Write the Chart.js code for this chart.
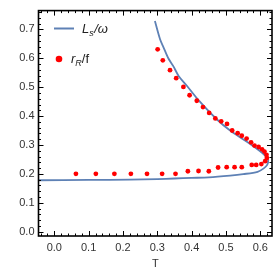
<!DOCTYPE html>
<html>
<head>
<meta charset="utf-8">
<script src="https://cdn.jsdelivr.net/npm/chart.js@4/dist/chart.umd.min.js"></script>
<style>
  html,body{margin:0;padding:0;background:#fff;}
  #wrap{position:relative;width:277px;height:274px;}
</style>
</head>
<body>
<div id="wrap"><canvas id="c" width="277" height="274"></canvas></div>
<script>
// ---- data ----
const lineT = [0.293,0.308,0.318,0.332,0.347,0.362,0.386,0.420,0.473,0.512,0.561,0.605,0.619,0.623,0.620,0.610,0.592,0.550,0.512,0.450,0.400,0.350,0.300,0.220,0.100,-0.046];
const lineY = [0.729,0.666,0.638,0.600,0.572,0.539,0.505,0.455,0.389,0.350,0.311,0.273,0.256,0.247,0.231,0.219,0.207,0.199,0.194,0.188,0.186,0.184,0.182,0.180,0.179,0.178];

const dotT = [0.301,0.316,0.337,0.355,0.376,0.394,0.415,0.433,0.451,0.469,0.486,0.503,0.518,0.534,0.546,0.560,0.573,0.583,0.595,0.605,0.612,0.618,0.619,0.614,0.603,0.588,0.575,0.546,0.525,0.502,0.477,0.450,0.420,0.389,0.353,0.314,0.270,0.223,0.175,0.121,0.063];
const dotY = [0.631,0.593,0.559,0.531,0.501,0.472,0.453,0.431,0.411,0.392,0.382,0.373,0.350,0.341,0.332,0.322,0.309,0.298,0.293,0.285,0.277,0.266,0.255,0.244,0.234,0.231,0.231,0.223,0.223,0.223,0.222,0.209,0.210,0.209,0.200,0.200,0.200,0.200,0.200,0.200,0.200];

const xTicks = [0.0,0.1,0.2,0.3,0.4,0.5,0.6];
const yTicks = [0.0,0.1,0.2,0.3,0.4,0.5,0.6,0.7];
const xLabels = ['0.0','0.1','0.2','0.3','0.4','0.5','0.6'];
const yLabels = ['0.0','0.1','0.2','0.3','0.4','0.5','0.6','0.7'];
const xRange = [-0.046, 0.634];
const yRange = [-0.015, 0.765];
const minorStep = 0.02;
const seriesNames = ['Ls/ω','rR/f'];

const BLUE = 'rgb(94,129,181)';
const RED = '#ff0000';
const FONT = '"Liberation Sans", Arial, sans-serif';

const framePlugin = {
  id: 'frame',
  afterDatasetsDraw(chart) {
    const {ctx, chartArea: a, scales: {x, y}} = chart;
    ctx.save();
    ctx.strokeStyle = '#000';
    // ticks
    ctx.lineWidth = 1;
    const drawX = (v, len) => {
      const px = Math.round(x.getPixelForValue(v)) + 0.5;
      ctx.beginPath();
      ctx.moveTo(px, a.bottom); ctx.lineTo(px, a.bottom - len);
      ctx.moveTo(px, a.top); ctx.lineTo(px, a.top + len);
      ctx.stroke();
    };
    const drawY = (v, len) => {
      const py = Math.round(y.getPixelForValue(v)) + 0.5;
      ctx.beginPath();
      ctx.moveTo(a.left, py); ctx.lineTo(a.left + len, py);
      ctx.moveTo(a.right, py); ctx.lineTo(a.right - len, py);
      ctx.stroke();
    };
    for (let k = Math.ceil(xRange[0] / minorStep); k * minorStep <= xRange[1]; k++) {
      const v = k * minorStep;
      const major = xTicks.some(t => Math.abs(t - v) < 1e-6);
      drawX(v, major ? 5 : 2.5);
    }
    for (let k = Math.ceil(yRange[0] / minorStep); k * minorStep <= yRange[1]; k++) {
      const v = k * minorStep;
      const major = yTicks.some(t => Math.abs(t - v) < 1e-6);
      drawY(v, major ? 5 : 2.5);
    }
    ctx.lineWidth = 1.6;
    ctx.strokeRect(a.left, a.top, a.right - a.left, a.bottom - a.top);
    ctx.restore();
  },
  afterDraw(chart) {
    const ctx = chart.ctx;
    ctx.save();
    // entry 1: line
    ctx.strokeStyle = BLUE;
    ctx.lineWidth = 2;
    ctx.beginPath(); ctx.moveTo(54, 28.5); ctx.lineTo(74, 28.5); ctx.stroke();
    ctx.fillStyle = '#222';
    ctx.textBaseline = 'alphabetic';
    let xp = 82;
    ctx.font = 'italic 13px ' + FONT;
    ctx.fillText('L', xp, 33); xp += ctx.measureText('L').width;
    ctx.font = 'italic 9px ' + FONT;
    ctx.fillText('s', xp, 36); xp += ctx.measureText('s').width + 0.5;
    ctx.font = 'italic 13px ' + FONT;
    ctx.fillText('/ω', xp, 33);
    // entry 2: dot
    ctx.fillStyle = RED;
    ctx.beginPath(); ctx.arc(59, 59, 3.3, 0, Math.PI * 2); ctx.fill();
    ctx.fillStyle = '#222';
    xp = 71;
    ctx.font = 'italic 13px ' + FONT;
    ctx.fillText('r', xp, 63); xp += ctx.measureText('r').width;
    ctx.font = 'italic 9px ' + FONT;
    ctx.fillText('R', xp, 66); xp += ctx.measureText('R').width;
    ctx.font = '13px ' + FONT;
    ctx.fillText('/f', xp, 63);
    ctx.restore();
  }
};

new Chart(document.getElementById('c'), {
  type: 'scatter',
  data: {
    datasets: [
      {
        label: seriesNames[0],
        data: lineT.map((t, i) => ({x: t, y: lineY[i]})),
        showLine: true,
        borderColor: BLUE,
        borderWidth: 1.8,
        pointRadius: 0,
        tension: 0.3,
        order: 2
      },
      {
        label: seriesNames[1],
        data: dotT.map((t, i) => ({x: t, y: dotY[i]})),
        showLine: false,
        backgroundColor: RED,
        borderWidth: 0,
        pointRadius: 2.4,
        order: 1
      }
    ]
  },
  options: {
    responsive: false,
    animation: false,
    devicePixelRatio: 1,
    layout: {padding: {top: 2, right: 5, left: 0, bottom: 0}},
    plugins: {legend: {display: false}, tooltip: {enabled: false}},
    scales: {
      x: {
        type: 'linear',
        min: xRange[0], max: xRange[1],
        grid: {display: false, drawTicks: false},
        border: {display: false},
        afterBuildTicks: s => { s.ticks = xTicks.map(v => ({value: v})); },
        afterFit: s => { s.height = 38; },
        ticks: {
          autoSkip: false, maxRotation: 0, padding: 5,
          color: '#333', font: {family: FONT, size: 11},
          callback: (v) => { const i = xTicks.findIndex(t => Math.abs(t - v) < 1e-6); return i >= 0 ? xLabels[i] : ''; }
        },
        title: {display: true, text: 'T', color: '#333', font: {family: FONT, size: 11}, padding: {top: 0, bottom: 3.5}}
      },
      y: {
        type: 'linear',
        min: yRange[0], max: yRange[1],
        grid: {display: false, drawTicks: false},
        border: {display: false},
        afterBuildTicks: s => { s.ticks = yTicks.map(v => ({value: v})); },
        afterFit: s => { s.width = 38.5; },
        ticks: {
          autoSkip: false, padding: 4,
          color: '#333', font: {family: FONT, size: 11},
          callback: (v) => { const i = yTicks.findIndex(t => Math.abs(t - v) < 1e-6); return i >= 0 ? yLabels[i] : ''; }
        }
      }
    }
  },
  plugins: [framePlugin]
});
</script>
</body>
</html>
